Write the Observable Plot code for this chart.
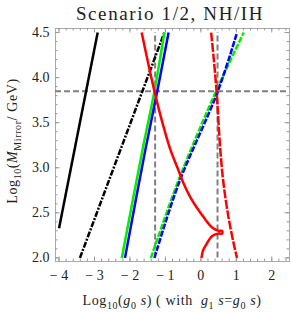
<!DOCTYPE html>
<html>
<head>
<meta charset="utf-8">
<script src="https://cdn.jsdelivr.net/npm/d3@7"></script>
<script src="https://cdn.jsdelivr.net/npm/@observablehq/plot@0.6"></script>
<style>
  html, body { margin: 0; padding: 0; background: #fff; }
  svg text { font-family: "Liberation Serif", "DejaVu Serif", serif; }
</style>
</head>
<body>
<div id="chart"></div>
<script>
// ---- data (log10 g0s, log10 M_Mirror/GeV) ----
const blackSolidX  = [-4.00, -2.91];
const blackSolidY  = [2.33, 4.50];
const blackDashedX = [-3.41, -1.03];
const blackDashedY = [2.00, 4.50];
const greenSolidX  = [-2.23, -1.65, -1.31, -1.03];
const greenSolidY  = [2.00, 3.19, 3.85, 4.50];
const blueSolidX   = [-2.14, -1.57, -1.23, -0.91];
const blueSolidY   = [2.00, 3.19, 3.85, 4.50];
const greenDashedX = [-1.41, -0.63, 0.43, 1.21];
const greenDashedY = [2.00, 2.86, 3.85, 4.50];
const blueDashedX  = [-1.31, -0.63, 0.48, 1.02];
const blueDashedY  = [2.00, 2.82, 3.85, 4.50];
const redSolidX    = [-1.67, -1.31, -1.05, -0.85, -0.66, -0.48, -0.25, 0.08, 0.31, 0.50, 0.60, 0.60, 0.50, 0.31, 0.17, 0.06, 0.02];
const redSolidY    = [4.50, 3.85, 3.45, 3.19, 3.00, 2.82, 2.64, 2.45, 2.34, 2.30, 2.30, 2.27, 2.27, 2.24, 2.16, 2.08, 2.00];
const redDashedX   = [0.29, 0.37, 0.44, 0.55, 0.64, 0.78, 0.925, 1.02];
const redDashedY   = [4.50, 4.18, 3.86, 3.19, 2.82, 2.45, 2.16, 2.00];
const refX         = [-1.29, 0.47];
const refY         = [3.85];
const refYSpan     = [2.00, 4.50];

const xTicks = [-4, -3, -2, -1, 0, 1, 2];
const yTicks = [2.0, 2.5, 3.0, 3.5, 4.0, 4.5];
const xMinor = d3.range(-4, 2.5, 0.2);
const yMinor = d3.range(2.0, 4.55, 0.1);

const W = 291, H = 313, mT = 28, mB = 52, mL = 55, mR = 2;
const innerH = H - mT - mB;
const innerW = W - mL - mR;

const pts = (xs, ys) => xs.map((x, i) => ({x, y: ys[i]}));

const series = [
  {d: pts(blackSolidX, blackSolidY), stroke: "#000", dash: null, curve: "linear"},
  {d: pts(blackDashedX, blackDashedY), stroke: "#000", dash: "6,1.5,2,1.5", curve: "linear"},
  {d: pts(greenSolidX, greenSolidY), stroke: "#00ee00", dash: null, curve: "catmull-rom"},
  {d: pts(blueSolidX, blueSolidY), stroke: "#0000ff", dash: null, curve: "catmull-rom"},
  {d: pts(greenDashedX, greenDashedY), stroke: "#00ee00", dash: "6,1.5", curve: "catmull-rom"},
  {d: pts(blueDashedX, blueDashedY), stroke: "#0000ff", dash: "6,1.5", curve: "catmull-rom"},
  {d: pts(redSolidX, redSolidY), stroke: "#ff0000", dash: null, curve: "catmull-rom"},
  {d: pts(redDashedX, redDashedY), stroke: "#ff0000", dash: "9,1.5", curve: "catmull-rom"}
];

const tickColor = "#999";
const marks = [
  Plot.frame({stroke: "#aaa"}),
  Plot.tickX(xMinor, {x: d => d, insetTop: innerH - 2.5, stroke: tickColor}),
  Plot.tickX(xMinor, {x: d => d, insetBottom: innerH - 2.5, stroke: tickColor}),
  Plot.tickX(xTicks, {x: d => d, insetTop: innerH - 4.5, stroke: tickColor}),
  Plot.tickX(xTicks, {x: d => d, insetBottom: innerH - 4.5, stroke: tickColor}),
  Plot.tickY(yMinor, {y: d => d, insetRight: innerW - 2.5, stroke: tickColor}),
  Plot.tickY(yMinor, {y: d => d, insetLeft: innerW - 2.5, stroke: tickColor}),
  Plot.tickY(yTicks, {y: d => d, insetRight: innerW - 4.5, stroke: tickColor}),
  Plot.tickY(yTicks, {y: d => d, insetLeft: innerW - 4.5, stroke: tickColor}),
  Plot.axisX(xTicks, {anchor: "bottom", tickSize: 0, tickPadding: 9, fontSize: 14, label: null,
    tickFormat: d => (d < 0 ? "\u2212 " + Math.abs(d) : String(d)), fill: "#222"}),
  Plot.axisY(yTicks, {anchor: "left", tickSize: 0, tickPadding: 6, fontSize: 14, label: null,
    tickFormat: d3.format(".1f"), fill: "#222"}),
  Plot.ruleY(refY, {y: d => d, stroke: "#808080", strokeWidth: 2, strokeDasharray: "6,3"}),
  Plot.ruleX(refX, {x: d => d, y1: refYSpan[0], y2: refYSpan[1], stroke: "#808080", strokeWidth: 2, strokeDasharray: "6,3"}),
  ...series.map(s => Plot.line(s.d, {x: "x", y: "y", stroke: s.stroke, strokeWidth: 2.5,
    strokeDasharray: s.dash, strokeLinecap: "butt", strokeLinejoin: "round", curve: s.curve}))
];

const svgNode = Plot.plot({
  width: W, height: H,
  marginTop: mT, marginBottom: mB, marginLeft: mL, marginRight: mR,
  x: {domain: [-4.1, 2.5]},
  y: {domain: [1.96, 4.545]},
  style: {background: "#fff", fontFamily: "Liberation Serif, serif"},
  marks
});
document.getElementById("chart").appendChild(svgNode);

const svg = d3.select(svgNode);

svg.append("text")
  .attr("x", 170).attr("y", 19.5)
  .attr("text-anchor", "middle")
  .attr("font-size", 19).attr("letter-spacing", 1.6).attr("fill", "#222")
  .text("Scenario 1/2, NH/IH");

function rich(sel, parts, subSize) {
  let pending = 0;
  parts.forEach(p => {
    const t = sel.append("tspan");
    if (p.sub) {
      t.attr("dy", 3.5).attr("font-size", subSize).text(p.sub);
      pending = -3.5;
    } else {
      t.text(p.t);
      if (p.i) t.attr("font-style", "italic");
      if (pending) { t.attr("dy", pending); pending = 0; }
    }
  });
}

const xl = svg.append("text")
  .attr("x", 172).attr("y", 305)
  .attr("text-anchor", "middle").attr("font-size", 14).attr("letter-spacing", 0.6).attr("fill", "#222");
rich(xl, [
  {t: "Log"}, {sub: "10"}, {t: "("}, {t: "g", i: true}, {sub: "0"}, {t: " s", i: true},
  {t: ") ( with  "}, {t: "g", i: true}, {sub: "1"}, {t: " s", i: true}, {t: "="},
  {t: "g", i: true}, {sub: "0"}, {t: " s", i: true}, {t: ")"}
], 10);

const yl = svg.append("text")
  .attr("transform", "translate(17,141) rotate(-90)")
  .attr("text-anchor", "middle").attr("font-size", 14).attr("letter-spacing", 0.6).attr("fill", "#222");
rich(yl, [
  {t: "Log"}, {sub: "10"}, {t: "("}, {t: "M", i: true}, {sub: "Mirror"}, {t: "/ GeV)"}
], 10);
</script>
</body>
</html>
